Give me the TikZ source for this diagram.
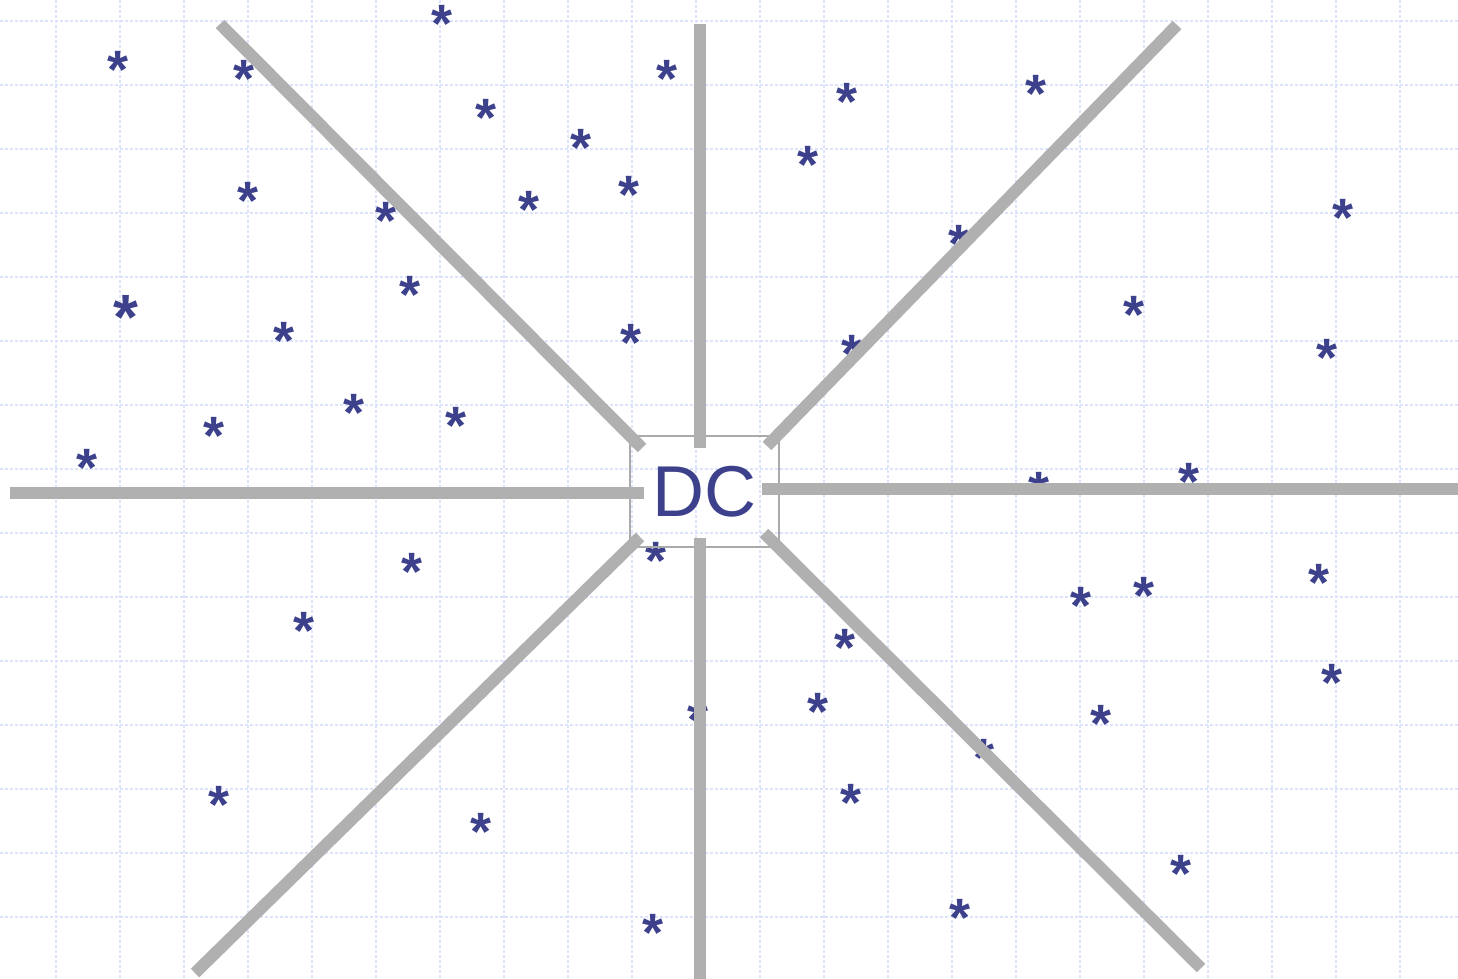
\documentclass[tikz,border=0pt]{standalone}
\usepackage{fontspec}
\setmainfont{Liberation Sans}
\definecolor{gridc}{HTML}{DCE4FC}
\definecolor{rayc}{HTML}{B0B0B0}
\definecolor{boxc}{HTML}{AAAAAA}
\definecolor{ink}{HTML}{3D418C}
\begin{document}
\begin{tikzpicture}[x=1pt,y=-1pt,
  gridline/.style={gridc, line width=1.2pt, dash pattern=on 3pt off 2pt},
  ray/.style={rayc, line width=12pt},
  starmark/.style={text=ink, inner sep=0pt, anchor=base, font=\fontsize{54}{54}\selectfont\bfseries},
  bigstar/.style={starmark, font=\fontsize{64}{64}\selectfont\bfseries},
  dcbox/.style={draw=boxc, line width=2pt, inner sep=0pt, minimum width=149pt, minimum height=111pt,
    text=ink, font=\fontsize{72}{72}\selectfont}]
\useasboundingbox[fill=white] (0,0) rectangle (1458,979);
% grid
\foreach \gx in {0,...,21} \draw[gridline] (56+64*\gx,0) -- (56+64*\gx,979);
\foreach \gy in {0,...,14} \draw[gridline] (0,21+64*\gy) -- (1458,21+64*\gy);
% stars
\foreach \sx/\sy [count=\i] in {117/63,243/72,441/17,485/110,580/140,666/72,846/95,1035/87,807/157,628/187,
  528/202,385/213,247/193,1342/210,958/236,409/287,283/333,630/335,851/346,1133/307,
  1326/350,353/405,455/418,213/428,86/460,1038/483,1188/474,655/553,411/564,303/623,
  1080/598,1143/588,1318/575,844/640,1331/675,697/712,817/704,1100/716,983/750,218/797,
  850/795,480/824,1180/866,959/910,652/925}
  \node[starmark] (s\i) at (\sx+1,\sy+26) {*};
\node[bigstar] (sbig) at (126,308+31) {*};
% centre box
\node[dcbox] (dc) at (704.5,491.5) {\raisebox{-2pt}{DC}};
% ray ends
\coordinate (nIn) at (700,448);  \coordinate (nOut) at (700,24);
\coordinate (sIn) at (700,538);  \coordinate (sOut) at (700,979);
\coordinate (wIn) at (644,492.5);  \coordinate (wOut) at (10,492.5);
\coordinate (eIn) at (762,489);  \coordinate (eOut) at (1458,489);
\coordinate (nwIn) at (642,448); \coordinate (nwOut) at (220,24);
\coordinate (neIn) at (767,446); \coordinate (neOut) at (1177,25);
\coordinate (swIn) at (640,537); \coordinate (swOut) at (195,973);
\coordinate (seIn) at (764,533); \coordinate (seOut) at (1201,968);
\foreach \r in {n,s,w,e,nw,ne,sw,se} \draw[ray] (\r In) -- (\r Out);
\end{tikzpicture}
\end{document}
